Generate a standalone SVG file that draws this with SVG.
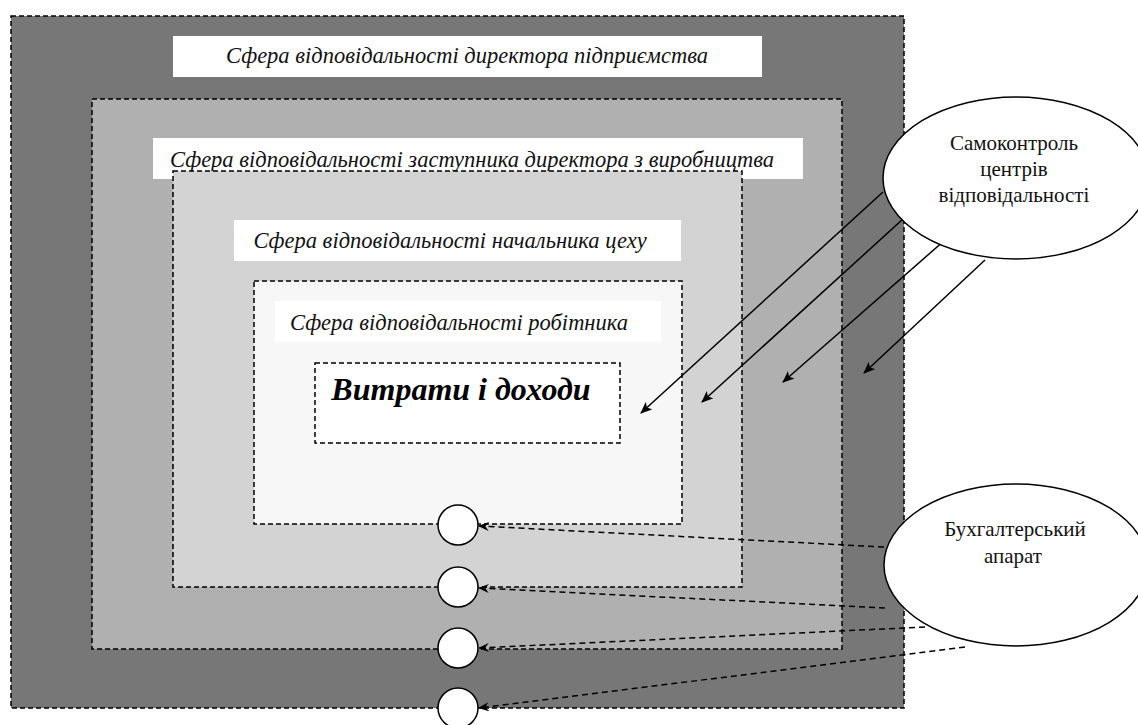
<svg xmlns="http://www.w3.org/2000/svg" width="1138" height="725" viewBox="0 0 1138 725">
<style>
.zone{stroke:#000;stroke-width:1.5;stroke-dasharray:5 3}
.lbl{fill:#fff}
.lt{font-family:"Liberation Serif","Times New Roman",serif;font-style:italic;font-size:22.5px;fill:#111;text-anchor:middle}
.et{font-family:"Liberation Serif","Times New Roman",serif;font-size:21px;fill:#111;text-anchor:middle}
.solid{stroke:#000;stroke-width:1.5;fill:none}
.dash{stroke:#000;stroke-width:1.5;fill:none;stroke-dasharray:6 4}
.node{fill:#fff;stroke:#000;stroke-width:1.5}
</style>
<defs>
<marker id="ah" viewBox="0 0 12 10" refX="11" refY="5" markerWidth="12" markerHeight="10" markerUnits="userSpaceOnUse" orient="auto">
<path d="M0,0 L12,5 L0,10 L3,5 Z" fill="#000"/>
</marker>
<marker id="dh" viewBox="0 0 12 10" refX="11" refY="5" markerWidth="11" markerHeight="9" markerUnits="userSpaceOnUse" orient="auto">
<path d="M0,0 L12,5 L0,10 L4,5 Z" fill="#000"/>
</marker>
</defs>
<rect width="1138" height="725" fill="#fff"/>
<g id="zone-director">
<rect class="zone" x="11" y="16" width="893" height="692" fill="#777"/>
<rect class="lbl" x="173" y="36" width="589" height="41"/>
<text class="lt" x="467" y="63">Сфера відповідальності директора підприємства</text>
</g>
<g id="zone-deputy">
<rect class="zone" x="92" y="99" width="750" height="550" fill="#b0b0b0"/>
<rect class="lbl" x="153" y="138" width="650" height="41"/>
<text class="lt" x="472" y="167">Сфера відповідальності заступника директора з виробництва</text>
</g>
<g id="zone-shop">
<rect class="zone" x="173" y="171" width="569" height="416" fill="#d3d3d3"/>
<rect class="lbl" x="234" y="220" width="447" height="41"/>
<text class="lt" x="450" y="248">Сфера відповідальності начальника цеху</text>
</g>
<g id="zone-worker">
<rect class="zone" x="254" y="281" width="428" height="243" fill="#f7f7f7"/>
<rect class="lbl" x="275" y="301" width="386" height="41"/>
<text class="lt" x="459" y="330">Сфера відповідальності робітника</text>
</g>
<g id="costs">
<rect class="zone" x="315" y="363" width="305" height="80" fill="#fff"/>
<text x="461" y="400" font-family="Liberation Serif,Times New Roman,serif" font-style="italic" font-weight="bold" font-size="32" text-anchor="middle" fill="#000">Витрати і доходи</text>
</g>
<g id="connectors">
<line class="solid" x1="883" y1="192" x2="641" y2="413" marker-end="url(#ah)"/>
<line class="solid" x1="903" y1="219" x2="702" y2="402" marker-end="url(#ah)"/>
<line class="solid" x1="945" y1="240" x2="783" y2="382" marker-end="url(#ah)"/>
<line class="solid" x1="985" y1="260" x2="864" y2="373" marker-end="url(#ah)"/>
<line class="dash" x1="884" y1="547" x2="479" y2="526" marker-end="url(#dh)"/>
<line class="dash" x1="885" y1="608" x2="479" y2="588" marker-end="url(#dh)"/>
<line class="dash" x1="925" y1="627" x2="479" y2="648" marker-end="url(#dh)"/>
<line class="dash" x1="965" y1="647" x2="479" y2="708" marker-end="url(#dh)"/>
</g>
<g id="point-1"><circle class="node" cx="458" cy="525" r="20"/></g>
<g id="point-2"><circle class="node" cx="458" cy="587" r="20"/></g>
<g id="point-3"><circle class="node" cx="458" cy="648" r="20"/></g>
<g id="point-4"><circle class="node" cx="458" cy="708" r="20"/></g>
<g id="self-control">
<ellipse class="node" cx="1016" cy="178" rx="133" ry="81"/>
<text class="et" x="1014" y="150">Самоконтроль</text>
<text class="et" x="1014" y="176">центрів</text>
<text class="et" x="1014" y="202">відповідальності</text>
</g>
<g id="accounting">
<ellipse class="node" cx="1016" cy="565" rx="132" ry="81"/>
<text class="et" x="1015" y="536">Бухгалтерський</text>
<text class="et" x="1013" y="563">апарат</text>
</g>
</svg>
